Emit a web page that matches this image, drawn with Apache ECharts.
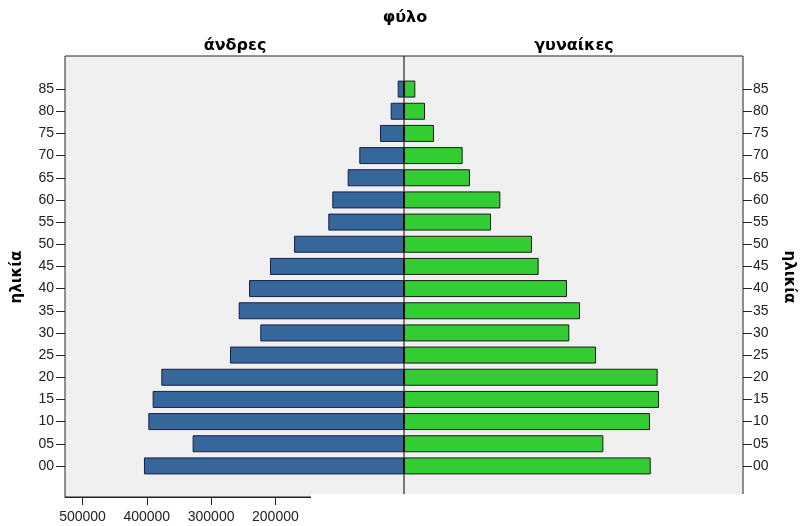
<!DOCTYPE html>
<html>
<head>
<meta charset="utf-8">
<script src="https://cdn.jsdelivr.net/npm/echarts@6/dist/echarts.min.js"></script>
<style>html,body{margin:0;padding:0;background:#fff}#c{width:812px;height:526px}</style>
</head>
<body>
<div id="c"></div>
<script>
const ages = ['00','05','10','15','20','25','30','35','40','45','50','55','60','65','70','75','80','85'];
const males = [404400,328700,397600,390900,377400,270600,223500,257100,241000,208400,171000,117700,111500,87600,69500,37300,20700,9800];
const females = [383700,310000,382600,396600,394500,298600,257100,273700,253500,209400,199100,135300,149800,102600,91200,46700,32700,17600];
const xTicks = [500000,400000,300000,200000];
const titleText = 'φύλο';
const groupNames = ['άνδρες','γυναίκες'];
const yName = 'ηλικία';

const XR = 527200;
const font = 'Liberation Sans, Arial, sans-serif';
const hfont = '"DejaVu Sans", Verdana, sans-serif';
const chart = echarts.init(document.getElementById('c'));
chart.setOption({
  animation: false,
  grid: [
    {left: 65, right: 69, top: 56, bottom: 29, show: true, backgroundColor: '#f0f0f0', borderColor: '#222', borderWidth: 1},
    {left: 65, right: 69, top: 78, bottom: 49}
  ],
  xAxis: [
    {gridIndex: 0, type: 'value', min: -XR, max: XR, splitLine: {show: false},
     axisLine: {show: true, onZero: false, lineStyle: {color: '#222'}},
     axisTick: {show: true, length: 8, lineStyle: {color: '#222'}, customValues: xTicks.map(v => -v)},
     axisLabel: {customValues: xTicks.map(v => -v), formatter: v => String(Math.abs(v)), fontFamily: font, fontSize: 14, color: '#222', margin: 13}},
    {gridIndex: 1, type: 'value', min: -XR, max: XR, show: false}
  ],
  yAxis: [
    {gridIndex: 0, type: 'value', show: false},
    {gridIndex: 1, type: 'category', data: ages, position: 'left', boundaryGap: true,
     axisLine: {show: false, onZero: false}, axisTick: {show: true, alignWithLabel: true, length: 9, lineStyle: {color: '#222'}},
     axisLabel: {fontFamily: font, fontSize: 14, color: '#222', margin: 11, interval: 0}},
    {gridIndex: 1, type: 'category', data: ages, position: 'right', boundaryGap: true,
     axisLine: {show: false, onZero: false}, axisTick: {show: true, alignWithLabel: true, length: 9, lineStyle: {color: '#222'}},
     axisLabel: {fontFamily: font, fontSize: 14, color: '#222', margin: 10, interval: 0}}
  ],
  series: [
    {type: 'bar', xAxisIndex: 1, yAxisIndex: 1, data: males.map(v => -v), barWidth: 17, barGap: '-100%',
     itemStyle: {color: '#35679a', borderColor: '#1c1c4a', borderWidth: 1}},
    {type: 'bar', xAxisIndex: 1, yAxisIndex: 1, data: females, barWidth: 17,
     itemStyle: {color: '#33cc33', borderColor: '#1a1a1a', borderWidth: 1}},
    {type: 'line', xAxisIndex: 0, yAxisIndex: 0, data: [[0, 0], [0, 1]], symbol: 'none', silent: true, z: 10,
     lineStyle: {color: '#000', width: 1}}
  ],
  graphic: [
    {type: 'rect', shape: {x: 311, y: 494, width: 501, height: 32}, style: {fill: '#fff'}, z: 100},
    {type: 'text', x: 405, y: 18, style: {text: titleText, font: 'bold 16px ' + hfont, fill: '#000', align: 'center', verticalAlign: 'middle'}},
    {type: 'text', x: 235, y: 46, style: {text: groupNames[0], font: 'bold 16px ' + hfont, fill: '#000', align: 'center', verticalAlign: 'middle'}},
    {type: 'text', x: 574, y: 46, style: {text: groupNames[1], font: 'bold 16px ' + hfont, fill: '#000', align: 'center', verticalAlign: 'middle'}},
    {type: 'text', x: 17, y: 277, rotation: Math.PI / 2, style: {text: yName, font: 'bold 15px ' + hfont, fill: '#000', align: 'center', verticalAlign: 'middle'}},
    {type: 'text', x: 789, y: 277, rotation: -Math.PI / 2, style: {text: yName, font: 'bold 15px ' + hfont, fill: '#000', align: 'center', verticalAlign: 'middle'}}
  ]
});
</script>
</body>
</html>
